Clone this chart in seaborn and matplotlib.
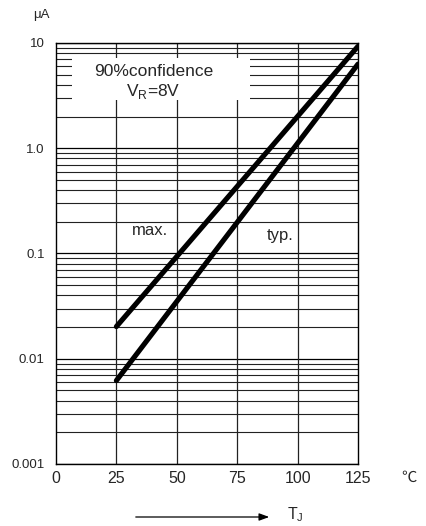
import matplotlib
matplotlib.use("Agg")
import matplotlib.pyplot as plt
import seaborn as sns
import numpy as np
import pandas as pd
from matplotlib.patches import Rectangle

temps = [25, 125]
max_ua = [0.0202, 9.3]
typ_ua = [0.0062, 6.3]
x_ticks = [0, 25, 50, 75, 100, 125]
y_ticks = [0.001, 0.01, 0.1, 1.0, 10]
y_labels = ["0.001", "0.01", "0.1", "1.0", "10"]

sns.set_style("white")
plt.rcParams['font.family'] = ['Liberation Sans', 'DejaVu Sans']

df = pd.DataFrame({
    "T": temps * 2,
    "I": max_ua + typ_ua,
    "curve": ["max."] * 2 + ["typ."] * 2,
})

fig = plt.figure(figsize=(4.27, 5.26), dpi=100)
ax = fig.add_axes([0.1311, 0.1179, 0.7073, 0.8004])
ax.set_yscale("log")
ax.set_xlim(0, 125)
ax.set_ylim(0.001, 10)


def py(pix):
    # pixel row in the figure -> data value on the log axis
    return 10 ** (-(pix - 43) / 105.25 + 1)


# grid
for d in [0.001, 0.01, 0.1, 1.0]:
    for m in range(1, 10):
        v = d * m
        ax.axhline(v, color="#222222" if m > 1 else "black", lw=0.9 if m == 1 else 0.8, zorder=1)
ax.axhline(10, color="black", lw=0.9, zorder=1)
for xv in [25, 50, 75, 100]:
    ax.axvline(xv, color="#222222", lw=0.9, zorder=1)

# white box behind annotation
ax.add_patch(Rectangle((6.6, py(100)), 80.3 - 6.6, py(58) - py(100),
                       facecolor="white", edgecolor="none", zorder=2))

sns.lineplot(data=df, x="T", y="I", units="curve", estimator=None, color="black",
             lw=3.7, ax=ax, legend=False, zorder=3, solid_capstyle="round")

ax.text(40.6, py(72), "90%confidence", fontsize=12.5,
        ha="center", va="center", zorder=4)
ax.text(40.3, py(91.5), "V$_{\\mathregular{R}}$=8V", fontsize=12.5,
        ha="center", va="center", zorder=4)
ax.text(38.9, py(231), "max.", fontsize=12,
        ha="center", va="center", zorder=4)
ax.text(92.7, py(236), "typ.", fontsize=12,
        ha="center", va="center", zorder=4,
        bbox=dict(facecolor="white", edgecolor="none", pad=1.5))

ax.set_xticks(x_ticks)
ax.set_xticklabels([str(v) for v in x_ticks], fontsize=11.5)
ax.set_yticks(y_ticks)
ax.set_yticklabels(y_labels, fontsize=9.5)
ax.yaxis.set_minor_locator(matplotlib.ticker.NullLocator())
ax.tick_params(axis="x", length=0, pad=5)
ax.tick_params(axis="y", length=0, pad=8)
for s in ax.spines.values():
    s.set_color("black")
    s.set_linewidth(1.0)
ax.set_xlabel("")
ax.set_ylabel("")

fig.text(41 / 427, 1 - 15 / 526, "μA", fontsize=9.5, ha="center", va="center")
fig.text(409 / 427, 1 - 477 / 526, "℃", fontsize=11, ha="center", va="center",
         family=["Noto Sans CJK SC", "DejaVu Sans"])
fig.add_artist(matplotlib.patches.FancyArrowPatch((133 / 427, 1 - 517 / 526), (272 / 427, 1 - 517 / 526),
               transform=fig.transFigure, arrowstyle="-|>,head_length=6,head_width=2.2", color="black", lw=0.9))
fig.text(287 / 427, 1 - 515 / 526, "T$_{\\mathregular{J}}$", fontsize=11.5, ha="left", va="center")

fig.savefig("out.png", dpi=100)
